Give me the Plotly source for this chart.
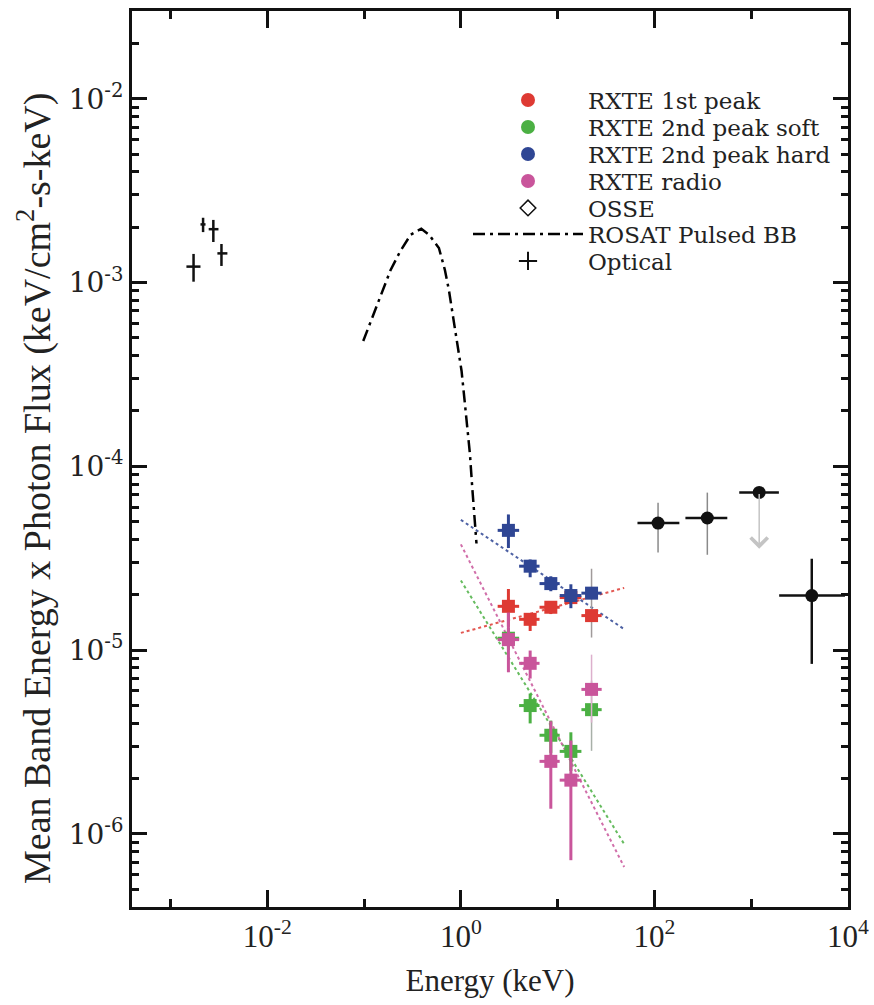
import math
import plotly.graph_objects as go

# ---------------- data ----------------
# ROSAT pulsed blackbody curve
bb_e = [0.098, 0.132, 0.188, 0.235, 0.303, 0.39, 0.468, 0.593, 0.684, 0.752,
        0.833, 0.931, 1.017, 1.10, 1.16, 1.24, 1.31, 1.39, 1.45]
bb_f = [4.8e-4, 7.2e-4, 1.17e-3, 1.47e-3, 1.82e-3, 1.96e-3, 1.82e-3, 1.54e-3,
        1.17e-3, 9.1e-4, 6.5e-4, 4.3e-4, 3.3e-4, 2.2e-4, 1.64e-4, 1.17e-4,
        7.7e-5, 5.3e-5, 3.8e-5]

# RXTE energy bands
rxte_e = [3.1, 5.2, 8.5, 13.7, 22.4]
rxte_elo = [2.4, 4.0, 6.5, 10.5, 17.6]
rxte_ehi = [4.0, 6.5, 10.5, 17.6, 28.5]

peak1 = [1.73e-5, 1.47e-5, 1.71e-5, 1.93e-5, 1.54e-5]
peak1_lo = [1.34e-5, 1.27e-5, 1.57e-5, 1.80e-5, 1.17e-5]
peak1_hi = [2.15e-5, 1.58e-5, 1.82e-5, 2.05e-5, 2.77e-5]

soft = [1.16e-5, 4.99e-6, 3.44e-6, 2.81e-6, 4.74e-6]
soft_lo = [1.0e-5, 3.99e-6, 2.76e-6, 2.20e-6, 2.83e-6]
soft_hi = [1.32e-5, 5.80e-6, 4.13e-6, 3.57e-6, 6.82e-6]

hard = [4.48e-5, 2.86e-5, 2.30e-5, 1.98e-5, 2.04e-5]
hard_lo = [3.59e-5, 2.49e-5, 2.09e-5, 1.69e-5, 1.92e-5]
hard_hi = [5.47e-5, 3.11e-5, 2.52e-5, 2.28e-5, 2.16e-5]

radio = [1.14e-5, 8.47e-6, 2.48e-6, 1.96e-6, 6.11e-6]
radio_lo = [7.57e-6, 7.0e-6, 1.37e-6, 7.19e-7, 4.03e-6]
radio_hi = [1.60e-5, 9.94e-6, 4.10e-6, 3.22e-6, 9.44e-6]

# power-law fits (end points)
fit_e = [1.0, 48.7]
fit_peak1 = [1.24e-5, 2.18e-5]
fit_soft = [2.39e-5, 8.8e-7]
fit_hard = [5.11e-5, 1.30e-5]
fit_radio = [3.76e-5, 6.6e-7]

# OSSE
osse_e = [109, 352, 1209, 4224]
osse_elo = [66.8, 209, 752, 1944]
osse_ehi = [181, 566, 1931, 9310]
osse_f = [4.91e-5, 5.23e-5, 7.21e-5, 1.98e-5]
osse_flo = [3.39e-5, 3.30e-5, 3.56e-5, 8.41e-6]
osse_fhi = [6.34e-5, 7.19e-5, 7.21e-5, 3.14e-5]

# Optical
opt_e = [1.73e-3, 2.17e-3, 2.77e-3, 3.36e-3]
opt_elo = [1.46e-3, 2.04e-3, 2.48e-3, 3.05e-3]
opt_ehi = [2.04e-3, 2.30e-3, 3.13e-3, 3.87e-3]
opt_f = [1.22e-3, 2.07e-3, 1.95e-3, 1.44e-3]
opt_flo = [1.01e-3, 1.88e-3, 1.66e-3, 1.23e-3]
opt_fhi = [1.43e-3, 2.25e-3, 2.19e-3, 1.62e-3]

legend_names = ["RXTE 1st peak", "RXTE 2nd peak soft", "RXTE 2nd peak hard", "RXTE radio",
                "OSSE", "ROSAT Pulsed BB", "Optical"]
colors = {"peak1": "#de3a33", "soft": "#4bb043", "hard": "#2f4694", "radio": "#c9559b"}

# ---------------- layout geometry ----------------
W, H = 874, 1005
ML, MR, MT, MB = 132, 26, 11, 98
PW, PH = W - ML - MR, H - MT - MB


def px_to_paper_x(px):
    return (px - ML) / PW


def px_to_paper_y(py):
    return (H - MB - py) / PH


fig = go.Figure()


def diff_plus(v, hi):
    return [h - a for a, h in zip(v, hi)]


def diff_minus(v, lo):
    return [a - l for a, l in zip(v, lo)]


# fit lines
for fy, key in [(fit_peak1, "peak1"), (fit_soft, "soft"), (fit_radio, "radio"), (fit_hard, "hard")]:
    fig.add_trace(go.Scatter(x=fit_e, y=fy, mode="lines", showlegend=False,
                             line=dict(color=colors[key], width=2, dash="dot"),
                             opacity=0.85))

# ROSAT BB
fig.add_trace(go.Scatter(x=bb_e, y=bb_f, mode="lines", name=legend_names[5],
                         legend="legend6",
                         line=dict(color="black", width=2.5, dash="12px,5px,3px,5px")))

thin_err = {"peak1": "#a09a9a", "soft": "#a8b0a8", "radio": "#dcb0cc", "hard": "#8f9cc4"}

for key, vals, lo, hi in [("peak1", peak1, peak1_lo, peak1_hi),
                          ("soft", soft, soft_lo, soft_hi),
                          ("radio", radio, radio_lo, radio_hi),
                          ("hard", hard, hard_lo, hard_hi)]:
    c = colors[key]
    ex_p = diff_plus(rxte_e, rxte_ehi)
    ex_m = diff_minus(rxte_e, rxte_elo)
    ey_p = diff_plus(vals, hi)
    ey_m = diff_minus(vals, lo)
    fig.add_trace(go.Scatter(
        x=rxte_e[:4], y=vals[:4], mode="markers", showlegend=False,
        marker=dict(symbol="square", size=13, color=c),
        error_x=dict(type="data", symmetric=False, array=ex_p[:4], arrayminus=ex_m[:4],
                     color=c, thickness=3, width=0),
        error_y=dict(type="data", symmetric=False, array=ey_p[:4], arrayminus=ey_m[:4],
                     color=c, thickness=3, width=0)))
    fig.add_trace(go.Scatter(
        x=rxte_e[4:], y=vals[4:], mode="markers", showlegend=False,
        marker=dict(symbol="square", size=13, color=c),
        error_x=dict(type="data", symmetric=False, array=ex_p[4:], arrayminus=ex_m[4:],
                     color=c, thickness=3, width=0),
        error_y=dict(type="data", symmetric=False, array=ey_p[4:], arrayminus=ey_m[4:],
                     color=thin_err[key], thickness=1.5, width=0)))

# OSSE
fig.add_trace(go.Scatter(
    x=osse_e[:2], y=osse_f[:2], mode="markers", showlegend=False,
    marker=dict(size=1, color="rgba(0,0,0,0)"),
    error_y=dict(type="data", symmetric=False, array=diff_plus(osse_f[:2], osse_fhi[:2]),
                 arrayminus=diff_minus(osse_f[:2], osse_flo[:2]),
                 color="#8a8a8a", thickness=1.5, width=0)))
fig.add_trace(go.Scatter(
    x=osse_e[3:], y=osse_f[3:], mode="markers", showlegend=False,
    marker=dict(size=1, color="rgba(0,0,0,0)"),
    error_y=dict(type="data", symmetric=False, array=diff_plus(osse_f[3:], osse_fhi[3:]),
                 arrayminus=diff_minus(osse_f[3:], osse_flo[3:]),
                 color="#111111", thickness=2.5, width=0)))
fig.add_trace(go.Scatter(
    x=osse_e, y=osse_f, mode="markers", showlegend=False,
    marker=dict(symbol="circle", size=13, color="#111111"),
    error_x=dict(type="data", symmetric=False, array=diff_plus(osse_e, osse_ehi),
                 arrayminus=diff_minus(osse_e, osse_elo),
                 color="#111111", thickness=2.5, width=0)))

# upper-limit arrow for third OSSE point
fig.add_annotation(x=math.log10(osse_e[2]), y=math.log10(osse_flo[2]),
                   ax=math.log10(osse_e[2]), ay=math.log10(osse_f[2]),
                   xref="x", yref="y", axref="x", ayref="y", text="",
                   showarrow=True, arrowhead=4, arrowsize=2.2, arrowwidth=1.5,
                   arrowcolor="#c4c4c4")

# Optical
fig.add_trace(go.Scatter(
    x=opt_e, y=opt_f, mode="markers", showlegend=False,
    marker=dict(size=1, color="rgba(0,0,0,0)"),
    error_x=dict(type="data", symmetric=False, array=diff_plus(opt_e, opt_ehi),
                 arrayminus=diff_minus(opt_e, opt_elo), color="#111111", thickness=2.5, width=0),
    error_y=dict(type="data", symmetric=False, array=diff_plus(opt_f, opt_fhi),
                 arrayminus=diff_minus(opt_f, opt_flo), color="#111111", thickness=2.5, width=0)))

# legend entries (one legend box per row so rows can sit close together)
for i, key in enumerate(["peak1", "soft", "hard", "radio"]):
    fig.add_trace(go.Scatter(x=[None], y=[None], mode="markers", name=legend_names[i],
                             legend="legend" if i == 0 else "legend%d" % (i + 1),
                             marker=dict(symbol="circle", size=14, color=colors[key])))
fig.add_trace(go.Scatter(x=[None], y=[None], mode="markers", name=legend_names[4],
                         legend="legend5",
                         marker=dict(symbol="diamond-open", size=12, color="#111111",
                                     line=dict(width=1.5, color="#111111"))))
fig.add_trace(go.Scatter(x=[None], y=[None], mode="markers", name=legend_names[6],
                         legend="legend7",
                         marker=dict(symbol="cross-thin-open", size=13, color="#111111",
                                     line=dict(width=2, color="#111111"))))

# ---------------- axes ----------------
x_major = [1e-2, 1, 1e2, 1e4]
x_major_txt = ["10<sup>-2</sup>", "10<sup>0</sup>", "10<sup>2</sup>", "10<sup>4</sup>"]
x_minor = [1e-3, 1e-1, 1e1, 1e3]
y_major = [1e-6, 1e-5, 1e-4, 1e-3, 1e-2]
y_major_txt = ["10<sup>-6</sup>", "10<sup>-5</sup>", "10<sup>-4</sup>", "10<sup>-3</sup>", "10<sup>-2</sup>"]
y_minor = [k * 10.0 ** d for d in range(-7, -1) for k in range(2, 10)]

fig.update_xaxes(
    type="log", range=[math.log10(4e-4), 4], automargin=False,
    tickmode="array", tickvals=x_major, ticktext=x_major_txt,
    ticks="inside", ticklen=17, tickwidth=2.5, tickcolor="#111111",
    minor=dict(tickmode="array", tickvals=x_minor, ticks="inside", ticklen=8,
               tickwidth=2.5, tickcolor="#111111", showgrid=False),
    showline=True, linecolor="#111111", linewidth=3, mirror="ticks",
    showgrid=False, zeroline=False,
    tickfont=dict(family="Liberation Serif", size=31, color="#222222"),
    title=dict(text="Energy (keV)", font=dict(family="Liberation Serif", size=31, color="#222222"),
               standoff=17),
)
fig.update_yaxes(
    type="log", range=[math.log10(4e-7), math.log10(3e-2)], automargin=False,
    tickmode="array", tickvals=y_major, ticktext=y_major_txt,
    ticks="inside", ticklen=15, tickwidth=2.5, tickcolor="#111111",
    minor=dict(tickmode="array", tickvals=y_minor, ticks="inside", ticklen=7,
               tickwidth=2.5, tickcolor="#111111", showgrid=False),
    showline=True, linecolor="#111111", linewidth=3, mirror="ticks",
    showgrid=False, zeroline=False,
    tickfont=dict(family="DejaVu Serif", size=28, color="#222222"),
)

# y-axis title placed as a rotated annotation (slightly below the axis centre, as in the reference)
fig.add_annotation(text="Mean Band Energy x Photon Flux (keV/cm<sup>2</sup>-s-keV)",
                   xref="paper", yref="paper", x=px_to_paper_x(35), y=px_to_paper_y(489),
                   xanchor="center", yanchor="middle", textangle=-90, showarrow=False,
                   font=dict(family="Liberation Serif", size=38, color="#222222"))

legend_rows_px = [100, 127, 154, 181, 208, 234, 261]
legend_style = dict(x=px_to_paper_x(468), xanchor="left", yanchor="middle",
                    bgcolor="rgba(0,0,0,0)", borderwidth=0, itemwidth=110,
                    font=dict(family="DejaVu Serif", size=23, color="#222222"))
layout_legends = {}
for i, py in enumerate(legend_rows_px):
    name = "legend" if i == 0 else "legend%d" % (i + 1)
    layout_legends[name] = dict(y=px_to_paper_y(py), **legend_style)

fig.update_layout(
    width=W, height=H,
    margin=dict(l=ML, r=MR, t=MT, b=MB),
    paper_bgcolor="white", plot_bgcolor="white",
    **layout_legends,
)

fig.write_html("out.html")
